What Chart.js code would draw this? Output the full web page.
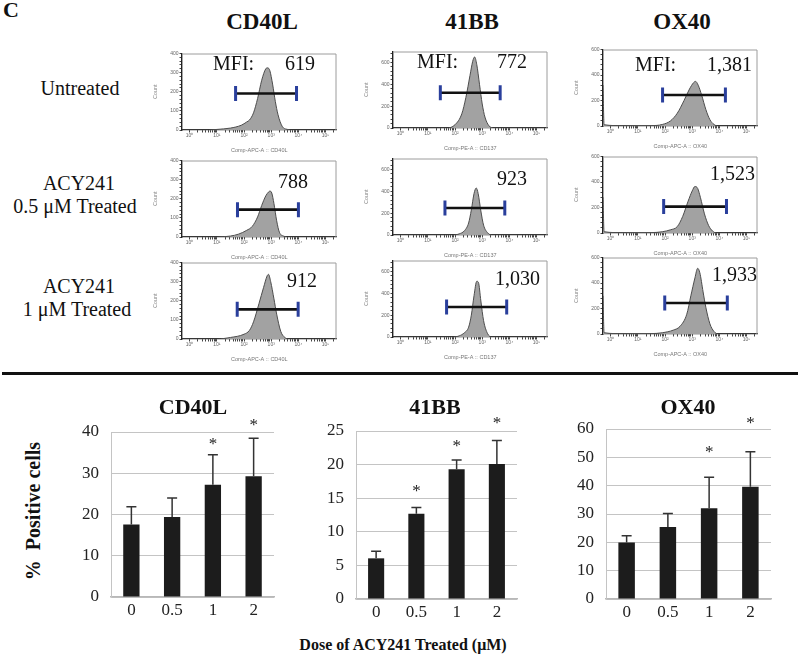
<!DOCTYPE html>
<html><head><meta charset="utf-8">
<script src="https://cdn.jsdelivr.net/npm/chart.js@4.4.1/dist/chart.umd.min.js"></script>
<style>
html,body{margin:0;padding:0;background:#fff;}
body{width:800px;height:657px;overflow:hidden;position:relative;font-family:"Liberation Serif","Times New Roman",serif;color:#111;}
.t{position:absolute;white-space:pre;line-height:1;}
.c{transform:translate(-50%,-50%);text-align:center;}
.l{transform:translate(0,-50%);}
canvas{position:absolute;}
</style></head><body>
<script>
// ---------------- DATA ----------------
const colTitles = ["CD40L", "41BB", "OX40"];
const rowLabels = [["Untreated"], ["ACY241", "0.5 μM Treated"], ["ACY241", "1 μM Treated"]];
const histXTitles = ["Comp-APC-A :: CD40L", "Comp-PE-A :: CD137", "Comp-APC-A :: OX40"];
const histYMax = [400, 700, 600];
const histYStep = [100, 200, 200];
const decadeLabels = ["10⁰", "10¹", "10²", "10³", "10⁴", "10⁵"];

// histograms: [log10 intensity, count]
const cd40lUntreated = [[-0.28,0],[0.7,0],[1.0,3],[1.5,10],[1.9,25],[2.1,42],[2.2,52],[2.35,90],[2.5,165],[2.65,260],[2.8,320],[2.87,325],[2.95,310],[3.05,240],[3.15,150],[3.25,80],[3.4,20],[3.6,3],[3.8,0],[5.4,0]];
const cd40lHalf = [[-0.28,0],[1.0,0],[1.5,5],[1.8,15],[2.1,35],[2.3,55],[2.5,105],[2.65,165],[2.8,215],[2.9,235],[2.95,240],[3.02,230],[3.1,175],[3.2,85],[3.3,25],[3.45,5],[3.6,0],[5.4,0]];
const cd40lOne = [[-0.28,0],[1.0,0],[1.5,8],[2.0,25],[2.2,45],[2.35,90],[2.55,185],[2.72,270],[2.85,330],[2.9,338],[2.98,300],[3.1,210],[3.2,130],[3.35,40],[3.5,8],[3.65,0],[5.4,0]];
const bb41Untreated = [[-0.28,0],[1.7,0],[2.0,30],[2.25,130],[2.4,280],[2.55,480],[2.65,610],[2.72,650],[2.8,580],[2.9,400],[3.0,220],[3.1,100],[3.25,20],[3.4,0],[5.4,0]];
const bb41Half = [[-0.28,0],[1.9,0],[2.15,10],[2.35,40],[2.5,110],[2.6,230],[2.7,380],[2.78,430],[2.85,380],[2.95,220],[3.05,90],[3.2,20],[3.35,0],[5.4,0]];
const bb41One = [[-0.28,0],[1.9,0],[2.15,10],[2.35,40],[2.5,90],[2.6,200],[2.7,380],[2.8,510],[2.86,500],[2.95,330],[3.05,150],[3.2,30],[3.35,0],[5.4,0]];
const ox40Untreated = [[-0.28,320],[-0.24,10],[0.5,2],[1.5,3],[1.9,12],[2.2,40],[2.45,100],[2.7,200],[2.9,290],[3.05,340],[3.12,350],[3.22,320],[3.35,240],[3.5,130],[3.65,50],[3.8,12],[3.95,0],[5.4,0]];
const ox40Half = [[-0.28,280],[-0.24,10],[0.5,2],[1.5,3],[1.9,10],[2.2,25],[2.45,50],[2.65,130],[2.85,250],[3.0,330],[3.1,365],[3.2,350],[3.3,280],[3.45,150],[3.6,60],[3.75,15],[3.9,0],[5.4,0]];
const ox40One = [[-0.28,300],[-0.24,10],[0.5,2],[1.5,3],[1.9,10],[2.3,30],[2.55,60],[2.8,155],[2.95,300],[3.1,440],[3.2,515],[3.28,480],[3.4,330],[3.5,210],[3.65,80],[3.8,20],[3.95,0],[5.4,0]];

// gates: [from log10, to log10, count level]
const gatesCD40L = [[1.69,3.93,191],[1.76,4.0,143],[1.75,3.99,155]];
const gates41BB  = [[1.46,3.66,323],[1.63,3.83,247],[1.69,3.9,275]];
const gatesOX40  = [[1.91,4.22,243],[1.95,4.26,207],[1.99,4.29,243]];

const mfiCD40L = ["619", "788", "912"];
const mfi41BB  = ["772", "923", "1,030"];
const mfiOX40  = ["1,381", "1,523", "1,933"];

// bar charts
const doses = ["0", "0.5", "1", "2"];
const pctCD40L = [17.6, 19.4, 27.2, 29.3];
const sdCD40L  = [4.3, 4.6, 7.3, 9.2];
const starCD40L = [null, null, 37.6, 42.4];
const pct41BB = [6.05, 12.7, 19.3, 20.1];
const sd41BB  = [1.05, 0.9, 1.4, 3.5];
const star41BB = [null, 16.5, 23.2, 26.6];
const pctOX40 = [19.9, 25.4, 32.0, 39.6];
const sdOX40  = [2.4, 4.8, 11.0, 12.4];
const starOX40 = [null, null, 52.6, 62.9];
const barYMax = [40, 25, 60];
const barYStep = [10, 5, 10];
const yAxisTitle = "%  Positive cells";
const xAxisTitle = "Dose of ACY241 Treated (μM)";
const panelLetter = "C";

// ---------------- HELPERS ----------------
function txt(s, x, y, size, cls, extra) {
  const d = document.createElement('div');
  d.className = 't ' + cls;
  d.textContent = s;
  d.style.left = x + 'px'; d.style.top = y + 'px';
  d.style.fontSize = size + 'px';
  if (extra) Object.assign(d.style, extra);
  document.body.appendChild(d);
  return d;
}
function mkCanvas(left, top, w, h) {
  const cv = document.createElement('canvas');
  cv.width = w; cv.height = h;
  cv.style.left = left + 'px'; cv.style.top = top + 'px';
  cv.style.width = w + 'px'; cv.style.height = h + 'px';
  document.body.appendChild(cv);
  return cv;
}
Chart.defaults.font.family = '"Liberation Sans", Arial, sans-serif';
Chart.defaults.animation = false;
Chart.defaults.plugins.legend.display = false;
Chart.defaults.plugins.tooltip.enabled = false;

// ---------------- HISTOGRAMS ----------------
const histSets = [
  [cd40lUntreated, cd40lHalf, cd40lOne],
  [bb41Untreated, bb41Half, bb41One],
  [ox40Untreated, ox40Half, ox40One]
];
const gateSets = [gatesCD40L, gates41BB, gatesOX40];
const mfiSets = [mfiCD40L, mfi41BB, mfiOX40];

const colLeft = [182, 393, 603];
const rowTop = [[47, 154, 256], [45, 152, 254], [43, 150, 251]];
const BW = 161, BH = 83, YW = 30, XH = 24, PT = 4, PR = 4;

const boxPlugin = {
  id: 'box',
  afterDatasetsDraw(chart) {
    const {ctx, chartArea: a} = chart;
    ctx.save();
    ctx.strokeStyle = '#9c9c9c'; ctx.lineWidth = 1;
    ctx.beginPath();
    ctx.moveTo(a.left, a.top + 0.5); ctx.lineTo(a.right - 0.5, a.top + 0.5); ctx.lineTo(a.right - 0.5, a.bottom);
    ctx.stroke();
    ctx.restore();
  }
};

function makeHist(c, r) {
  const L = colLeft[c], T = rowTop[c][r];
  const cv = mkCanvas(L - YW, T - PT, YW + BW + PR, PT + BH + XH);
  const g = gateSets[c][r];
  const ymax = histYMax[c], ystep = histYStep[c];
  new Chart(cv, {
    type: 'line',
    data: {
      datasets: [
        { data: [{x: g[0], y: g[2]}, {x: g[1], y: g[2]}], borderColor: '#111', borderWidth: 2.6,
          pointStyle: 'line', rotation: 90, pointRadius: 7.5, pointBorderColor: '#2a3f9c',
          pointBorderWidth: 3, pointBackgroundColor: '#2a3f9c', fill: false, tension: 0 },
        { data: histSets[c][r].map(p => ({x: p[0], y: p[1]})), borderColor: '#4d4d4d', borderWidth: 1,
          backgroundColor: '#a2a2a2', fill: 'origin', pointRadius: 0, tension: 0.4,
          cubicInterpolationMode: 'monotone' }
      ]
    },
    options: {
      responsive: false, devicePixelRatio: 1,
      layout: { padding: { top: PT, right: PR, left: 0, bottom: 0 } },
      scales: {
        x: {
          type: 'linear', min: -0.28, max: 5.4,
          afterFit(s) { s.height = XH; },
          afterBuildTicks(s) {
            const t = [];
            for (let k = 0; k <= 5; k++) {
              t.push({value: k});
              for (let m = 2; m <= 9; m++) { const v = k + Math.log10(m); if (v <= 5.4) t.push({value: v}); }
            }
            s.ticks = t;
          },
          ticks: { autoSkip: false, maxRotation: 0, padding: 0, font: { size: 5 }, color: '#666',
            callback: v => (Math.abs(v - Math.round(v)) < 1e-9 ? decadeLabels[Math.round(v)] : '') },
          grid: { display: true, drawOnChartArea: false, drawTicks: true, tickLength: 2.5, color: '#444' },
          border: { display: true, color: '#222', width: 1.2 },
          title: { display: true, text: histXTitles[c], font: { size: 5.5 }, color: '#777', padding: { top: 0, bottom: 0 } }
        },
        y: {
          min: 0, max: ymax,
          afterFit(s) { s.width = YW; },
          afterBuildTicks(s) {
            const t = [];
            for (let v = 0; v <= ymax + 1e-9; v += ystep / 5) t.push({value: v});
            s.ticks = t;
          },
          ticks: { autoSkip: false, padding: 1, font: { size: 5 }, color: '#666',
            callback: v => (Math.abs(v % ystep) < 1e-6 ? String(v) : '') },
          grid: { display: true, drawOnChartArea: false, drawTicks: true, tickLength: 2.5, color: '#444' },
          border: { display: true, color: '#222', width: 1.4 },
          title: { display: true, text: 'Count', font: { size: 5.5 }, color: '#888', padding: { top: 0, bottom: 2 } }
        }
      }
    },
    plugins: [boxPlugin]
  });
}
for (let c = 0; c < 3; c++) for (let r = 0; r < 3; r++) makeHist(c, r);

// histogram texts
txt(panelLetter, 3, 10, 22, 'l', {fontWeight: 'bold'});
const colCenter = [262, 472, 682];
colTitles.forEach((s, i) => txt(s, colCenter[i], 21, 23, 'c', {fontWeight: 'bold'}));
txt(rowLabels[0][0], 80, 88, 20, 'c');
txt(rowLabels[1][0], 79, 183, 20, 'c');
txt(rowLabels[1][1], 75, 206, 20, 'c');
txt(rowLabels[2][0], 79, 286, 20, 'c');
txt(rowLabels[2][1], 77, 309, 20, 'c');
const mfiPos = [
  [[285, 63], [278, 181], [287, 280]],
  [[497, 61], [497, 178], [495, 278]],
  [[707, 64], [710, 173], [712, 274]]
];
const mfiWordPos = [[213, 63], [417, 61], [635, 64]];
for (let c = 0; c < 3; c++) {
  txt('MFI:', mfiWordPos[c][0], mfiWordPos[c][1], 20, 'l');
  for (let r = 0; r < 3; r++) txt(mfiSets[c][r], mfiPos[c][r][0], mfiPos[c][r][1], 20, 'l');
}
// divider
const dv = document.createElement('div');
Object.assign(dv.style, {position: 'absolute', left: '2px', top: '372px', width: '796px', height: '2.5px', background: '#111'});
document.body.appendChild(dv);

// ---------------- BAR CHARTS ----------------
function makeBar(i, vals, sd, stars, box) {
  const [L, R, T, B] = box;
  const YA = 50, XA = 25, TOP = 40, RP = 8;
  const cv = mkCanvas(L - YA, T - TOP, YA + (R - L) + RP, TOP + (B - T) + XA);
  const errPlugin = {
    id: 'err' + i,
    afterDatasetsDraw(chart) {
      const {ctx} = chart;
      const ys = chart.scales.y;
      const meta = chart.getDatasetMeta(0);
      ctx.save();
      meta.data.forEach((el, j) => {
        const x = el.x;
        const yt = ys.getPixelForValue(vals[j] + sd[j]);
        ctx.strokeStyle = '#333'; ctx.lineWidth = 1.5;
        ctx.beginPath(); ctx.moveTo(x, el.y); ctx.lineTo(x, yt); ctx.moveTo(x - 5, yt); ctx.lineTo(x + 5, yt); ctx.stroke();
        if (stars[j] != null) {
          ctx.fillStyle = '#222';
          ctx.font = '17px "Liberation Serif", serif';
          ctx.textAlign = 'center'; ctx.textBaseline = 'middle';
          ctx.fillText('*', x, ys.getPixelForValue(stars[j]) + 3);
        }
      });
      ctx.restore();
    }
  };
  new Chart(cv, {
    type: 'bar',
    data: { labels: doses, datasets: [{ data: vals, backgroundColor: '#1c1c1c', barPercentage: 0.4, categoryPercentage: 1 }] },
    options: {
      responsive: false, devicePixelRatio: 1,
      layout: { padding: { top: TOP, right: RP, left: 0, bottom: 0 } },
      scales: {
        x: {
          afterFit(s) { s.height = XA; },
          ticks: { padding: 3, font: { family: '"Liberation Serif", serif', size: 17 }, color: '#222', maxRotation: 0 },
          grid: { display: false, drawTicks: false },
          border: { display: true, color: '#b8b8b8', width: 1.5 }
        },
        y: {
          min: 0, max: barYMax[i],
          afterFit(s) { s.width = YA; },
          ticks: { stepSize: barYStep[i], padding: 12, font: { family: '"Liberation Serif", serif', size: 17 }, color: '#222' },
          grid: { color: '#c4c4c4', lineWidth: 1, drawTicks: false },
          border: { display: true, color: '#c4c4c4', width: 1 }
        }
      }
    },
    plugins: [errPlugin]
  });
}
makeBar(0, pctCD40L, sdCD40L, starCD40L, [111, 274, 432, 597]);
makeBar(1, pct41BB, sd41BB, star41BB, [356, 517, 431, 599]);
makeBar(2, pctOX40, sdOX40, starOX40, [606, 771, 429, 599]);

const barTitleX = [193, 435, 688];
colTitles.forEach((s, i) => txt(s, barTitleX[i], 407, 22, 'c', {fontWeight: 'bold'}));
txt(yAxisTitle, 33, 511, 20, 'c', {fontWeight: 'bold', transform: 'translate(-50%,-50%) rotate(-90deg)'});
txt(xAxisTitle, 403, 645, 16, 'c', {fontWeight: 'bold'});
</script>
</body></html>
